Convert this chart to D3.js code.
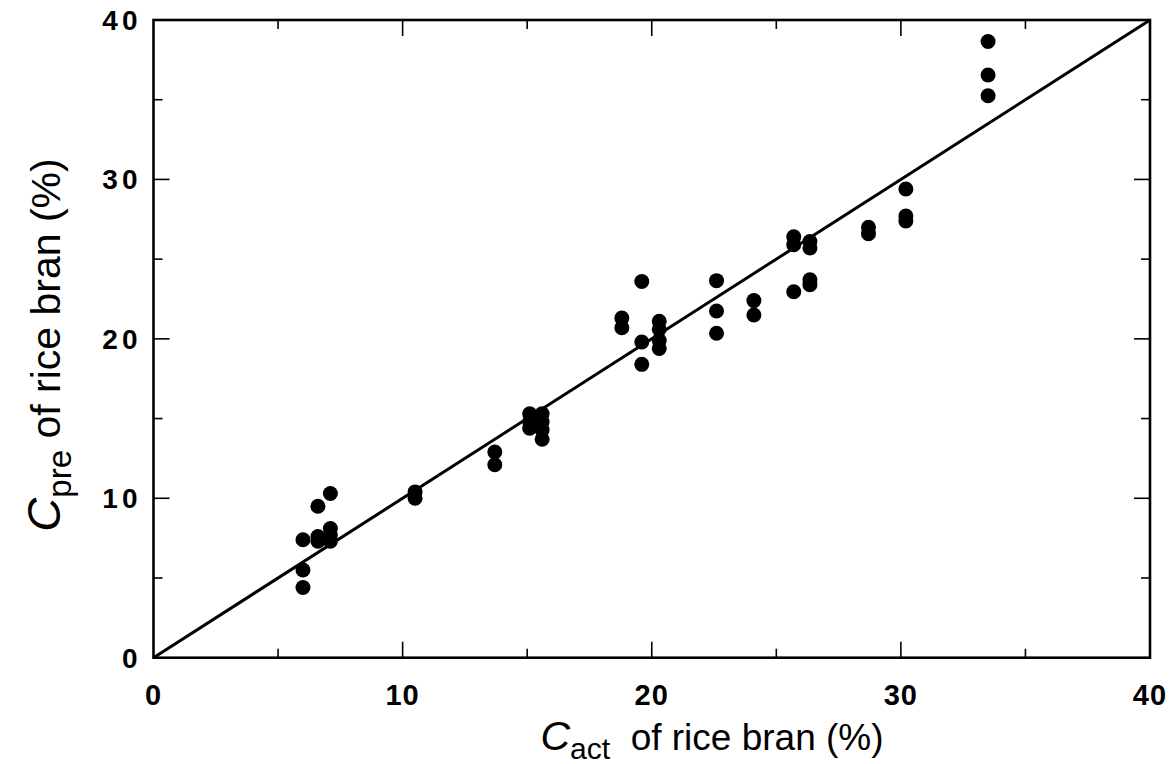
<!DOCTYPE html>
<html><head><meta charset="utf-8">
<script src="https://cdn.jsdelivr.net/npm/d3@7"></script>
<style>body{margin:0;background:#fff}</style></head>
<body><svg id="c" width="1173" height="764"></svg>
<script>
const actual = [6.0,6.0,6.0, 6.6,6.6,6.6, 7.1,7.1,7.1,7.1, 10.5,10.5, 13.7,13.7,
  15.1,15.1,15.1, 15.6,15.6,15.6,15.6, 18.8,18.8, 19.6,19.6,19.6, 20.3,20.3,20.3,20.3,
  22.6,22.6,22.6, 24.1,24.1, 25.7,25.7,25.7, 26.35,26.35,26.35,26.35, 28.7,28.7,
  30.2,30.2,30.2, 33.5,33.5,33.5];
const predicted = [7.4,5.5,4.4, 9.5,7.6,7.3, 10.3,8.1,7.7,7.3, 10.4,10.0, 12.9,12.1,
  15.3,14.8,14.4, 15.3,14.8,14.3,13.7, 21.3,20.7, 23.6,19.8,18.4, 21.1,20.6,19.9,19.4,
  23.65,21.75,20.35, 22.4,21.5, 26.4,25.9,22.95, 26.1,25.7,23.7,23.4, 27.0,26.6,
  29.4,27.7,27.4, 38.65,36.55,35.25];
const xTicks = [0,10,20,30,40];
const yTicks = [0,10,20,30,40];
const minorTicks = [5,15,25,35];
const lineEnds = [0,40];

const svg = d3.select("#c");
const L=153.5, R=1150, T=20, B=657.7;
const x = d3.scaleLinear().domain([0,40]).range([L,R]);
const y = d3.scaleLinear().domain([0,40]).range([B,T]);
const g = svg.append("g");
const FONT = "Liberation Sans, Arial, Helvetica, sans-serif";

const maj=16, mn=9;
function tickLines(vals,len){
  vals.forEach(v=>{
    g.append("line").attr("x1",x(v)).attr("x2",x(v)).attr("y1",B).attr("y2",B-len).attr("stroke","#000").attr("stroke-width",1.6);
    g.append("line").attr("x1",x(v)).attr("x2",x(v)).attr("y1",T).attr("y2",T+len).attr("stroke","#000").attr("stroke-width",1.6);
    g.append("line").attr("y1",y(v)).attr("y2",y(v)).attr("x1",L).attr("x2",L+len).attr("stroke","#000").attr("stroke-width",1.6);
    g.append("line").attr("y1",y(v)).attr("y2",y(v)).attr("x1",R).attr("x2",R-len).attr("stroke","#000").attr("stroke-width",1.6);
  });
}
tickLines(xTicks.slice(1,-1),maj);
tickLines(minorTicks,mn);

g.append("rect").attr("x",L).attr("y",T).attr("width",R-L).attr("height",B-T)
 .attr("fill","none").attr("stroke","#000").attr("stroke-width",2.6);

// tick labels
g.selectAll(".xl").data(xTicks).enter().append("text")
 .attr("x",d=>x(d)).attr("y",B+47).attr("text-anchor","middle")
 .attr("font-family",FONT).attr("font-weight","bold").attr("letter-spacing",1)
 .attr("font-size",29).text(d=>d);
g.selectAll(".yl").data(yTicks).enter().append("text")
 .attr("x",L-12).attr("y",d=>y(d)+10).attr("text-anchor","end")
 .attr("font-family",FONT).attr("font-weight","bold").attr("letter-spacing",4)
 .attr("font-size",28).text(d=>d);

// 1:1 line
g.append("line").attr("x1",x(lineEnds[0])).attr("y1",y(lineEnds[0]))
 .attr("x2",x(lineEnds[1])).attr("y2",y(lineEnds[1]))
 .attr("stroke","#000").attr("stroke-width",3);

// points
g.selectAll("circle").data(actual.map((a,i)=>[a,predicted[i]])).enter().append("circle")
 .attr("cx",d=>x(d[0])).attr("cy",d=>y(d[1])).attr("r",7.5).attr("fill","#000");

// axis titles
const xt = svg.append("text").attr("x",712).attr("y",750).attr("text-anchor","middle")
 .attr("font-family",FONT).attr("font-size",37);
xt.append("tspan").attr("font-style","italic").attr("font-size",41).text("C");
xt.append("tspan").attr("dy",9).attr("font-size",30).text("act");
xt.append("tspan").attr("dy",-9).text("\u00a0 of rice bran (%)");

const yt = svg.append("text").attr("transform","translate(60,345) rotate(-90)").attr("text-anchor","middle")
 .attr("font-family",FONT).attr("font-size",41);
yt.append("tspan").attr("font-style","italic").attr("font-size",47).text("C");
yt.append("tspan").attr("dy",11).attr("font-size",33).text("pre");
yt.append("tspan").attr("dy",-11).text(" of rice bran (%)");
</script></body></html>
